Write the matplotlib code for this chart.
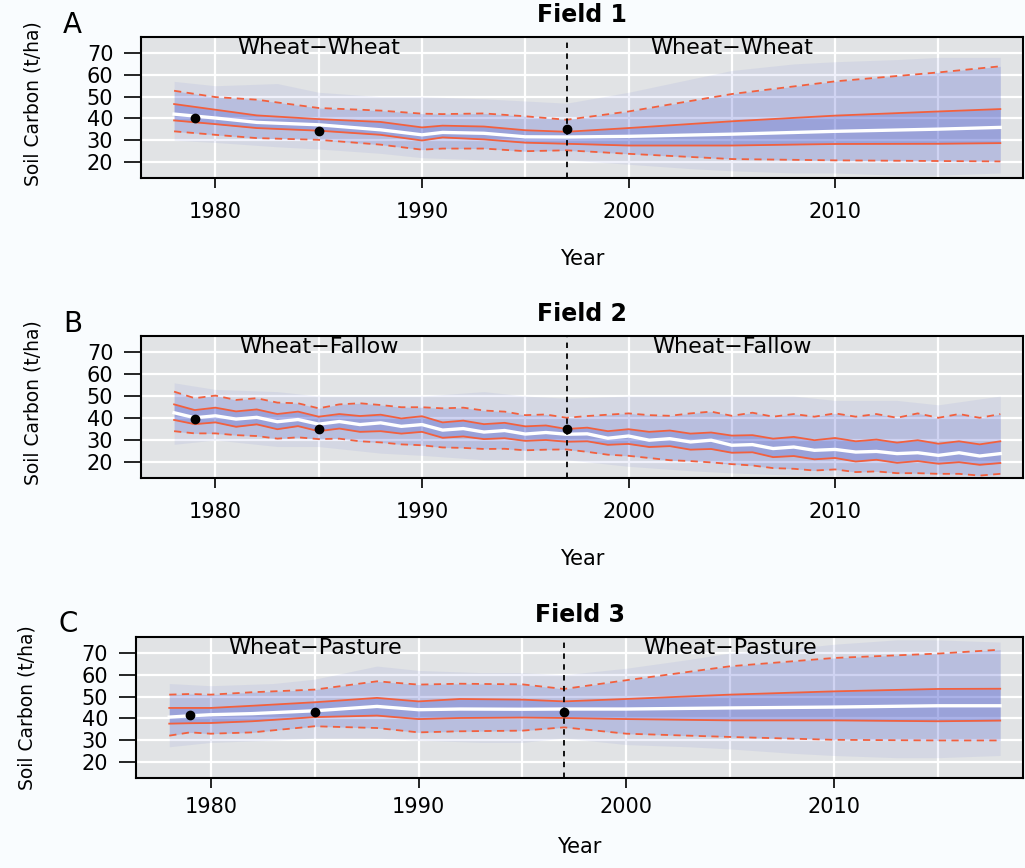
import matplotlib
matplotlib.use('Agg')
import matplotlib.pyplot as plt

plt.rcParams['font.family'] = ['DejaVu Sans']

# observed soil carbon (black dots)
obs_years = [1979, 1985, 1997]
obs_A = [40.3, 34.4, 35.0]
obs_B = [39.5, 34.9, 34.9]
obs_C = [41.4, 42.8, 42.8]

titles = ['Field 1', 'Field 2', 'Field 3']
letters = ['A', 'B', 'C']
rotations = ['Wheat\u2212Wheat', 'Wheat\u2212Fallow', 'Wheat\u2212Pasture']

# Field 1 quantiles
years_A = [1978, 1980, 1982, 1985, 1988, 1990, 1991, 1993, 1995, 1997, 2000, 2005, 2010, 2015, 2018]
a_hi95 = [52.7, 49.8, 48.6, 44.8, 43.6, 42.2, 42.0, 42.3, 41.0, 39.4, 43.2, 51.2, 57.0, 61.1, 63.9]
a_hi50 = [46.6, 44.0, 41.4, 39.7, 38.4, 35.9, 36.7, 36.3, 34.6, 33.9, 35.6, 38.7, 41.3, 43.2, 44.3]
a_med = [42.0, 40.2, 38.2, 37.1, 34.8, 32.5, 33.6, 33.2, 31.6, 31.5, 31.8, 32.8, 34.1, 35.1, 35.9]
a_lo50 = [39.1, 37.4, 35.6, 34.4, 32.5, 29.9, 31.3, 30.4, 28.9, 28.4, 27.6, 27.6, 28.3, 28.4, 28.7]
a_lo95 = [34.1, 32.5, 31.0, 30.2, 28.0, 25.7, 26.2, 26.2, 25.0, 25.4, 23.8, 21.4, 20.8, 20.5, 20.3]

env_years = [1978, 1980, 1983, 1985, 1988, 1990, 1993, 1995, 1997, 2000, 2003, 2005, 2008, 2010, 2013, 2015, 2018]
a_env_hi = [57, 55, 56, 52, 50, 50, 49, 48, 47, 52, 58, 62, 65, 66, 67, 68, 68]
a_env_lo = [30, 29, 27, 26, 24, 22, 21, 21, 21, 19, 17, 16, 15, 15, 14, 14, 15]

# Field 2 quantiles, yearly (wheat-fallow zigzag)
years_B = list(range(1978, 2019))
b_hi95 = [52.0, 49.0, 50.2, 48.2, 49.0, 47.0, 46.7, 44.4, 46.2, 46.7, 45.9, 44.9, 44.9,
          44.4, 44.7, 43.4, 42.9, 41.3, 41.6, 40.1, 40.9, 41.5, 42.1, 41.3, 41.0, 42.1, 42.9,
          41.0, 42.4, 40.6, 41.8, 40.6, 42.1, 40.6, 41.8, 40.1, 42.1, 40.1, 41.8, 40.1, 41.8]
b_hi50 = [46.2, 43.6, 44.7, 43.0, 43.9, 41.8, 42.9, 40.6, 41.8, 40.9, 41.5, 39.8, 40.8,
          38.0, 38.8, 37.2, 37.8, 36.2, 36.6, 35.0, 35.6, 34.0, 34.9, 33.7, 34.3, 32.9, 33.4,
          32.0, 32.2, 30.6, 31.4, 29.9, 30.9, 29.4, 30.2, 28.8, 29.9, 28.3, 29.4, 28.0, 29.4]
b_med = [42.4, 40.1, 41.0, 39.5, 40.3, 38.3, 39.3, 37.2, 38.4, 37.0, 37.8, 36.2, 37.0,
         34.5, 35.2, 33.6, 34.3, 32.7, 33.4, 32.6, 32.8, 30.8, 31.8, 29.9, 30.6, 29.1, 29.9,
         27.6, 27.9, 26.1, 26.8, 25.3, 25.7, 24.5, 24.8, 23.8, 24.2, 23.0, 24.2, 22.7, 23.8]
b_lo50 = [39.1, 37.2, 38.0, 36.0, 37.1, 34.9, 36.3, 34.0, 35.2, 33.7, 34.0, 32.9, 33.7,
          31.0, 31.6, 30.4, 30.8, 29.6, 30.0, 29.2, 29.4, 27.8, 28.2, 26.8, 27.2, 25.6, 25.9,
          24.2, 24.4, 22.2, 22.7, 21.2, 21.8, 20.2, 21.0, 19.6, 20.4, 19.2, 19.9, 18.7, 19.5]
b_lo95 = [34.0, 33.0, 33.0, 32.2, 31.8, 30.6, 31.2, 30.4, 30.6, 29.4, 28.9, 28.0, 27.6,
          26.6, 26.4, 25.9, 26.0, 25.3, 25.6, 25.7, 24.6, 23.3, 22.8, 21.8, 20.8, 20.4, 19.8,
          19.0, 18.4, 17.2, 16.9, 16.1, 16.6, 15.4, 15.7, 14.9, 14.9, 14.6, 14.6, 13.8, 14.6]
b_env_hi = [56, 53, 52, 50, 50, 50, 52, 50, 49, 50, 50, 50, 50, 48, 48, 46, 50]
b_env_lo = [28, 30, 27, 27, 24, 23, 21, 21, 21, 18, 16, 15, 14, 14, 13, 13, 13]

# Field 3 quantiles
years_C = [1978, 1979, 1980, 1982, 1985, 1988, 1990, 1992, 1995, 1997, 2000, 2005, 2010, 2015, 2018]
c_hi95 = [50.9, 51.2, 50.9, 52.0, 53.2, 57.0, 55.5, 55.9, 55.6, 53.5, 57.5, 63.9, 67.7, 69.7, 71.5]
c_hi50 = [44.8, 44.8, 44.8, 45.8, 47.4, 49.4, 47.8, 48.9, 48.6, 47.8, 48.9, 50.9, 52.4, 53.5, 53.6]
c_med = [40.6, 41.2, 41.7, 42.2, 43.5, 45.5, 44.0, 44.3, 44.2, 44.3, 44.3, 44.8, 45.2, 45.8, 45.8]
c_lo50 = [37.6, 37.8, 37.9, 38.7, 40.6, 41.3, 39.7, 40.2, 40.4, 40.2, 39.7, 39.1, 39.1, 38.7, 39.0]
c_lo95 = [32.1, 33.6, 33.0, 33.6, 36.4, 35.6, 33.6, 34.1, 34.4, 35.9, 33.0, 31.5, 30.2, 29.9, 29.9]
c_env_hi = [56, 55, 56, 58, 64, 62, 61, 61, 60, 63, 67, 70, 72, 74, 76, 76, 75]
c_env_lo = [27, 29, 30, 31, 31, 30, 29, 29, 31, 28, 27, 26, 24, 23, 22, 22, 23]

FIG_BG = '#f9fcfe'
PANEL_BG = '#e1e3e5'
BLUE = '#4455cc'
RED = '#f2603e'


def draw_panel(ax, years, lo95, lo50, med, hi50, hi95, e_years, e_lo, e_hi, obs, title, label,
               xpad=10, xlabelpad=20, ylab_y=0.53):
    ax.set_facecolor(PANEL_BG)
    ax.set_xlim(1976.4, 2019.1)
    ax.set_ylim(12.7, 77.3)

    # white grid, every 5 years and every 10 t/ha
    for yr in range(1980, 2016, 5):
        ax.axvline(yr, color='white', lw=1.6, zorder=0.5)
    for v in range(20, 71, 10):
        ax.axhline(v, color='white', lw=1.6, zorder=0.5)

    # blue cloud of simulated runs
    ax.fill_between(e_years, e_lo, e_hi, color=BLUE, alpha=0.08, lw=0, zorder=1)
    ax.fill_between(years, lo95, hi95, color=BLUE, alpha=0.19, lw=0, zorder=1.1)
    ax.fill_between(years, lo50, hi50, color=BLUE, alpha=0.26, lw=0, zorder=1.2)

    # quantile lines
    ax.plot(years, hi95, color=RED, lw=1.3, ls=(0, (4, 3)), zorder=2)
    ax.plot(years, lo95, color=RED, lw=1.3, ls=(0, (4, 3)), zorder=2)
    ax.plot(years, hi50, color=RED, lw=1.3, zorder=2)
    ax.plot(years, lo50, color=RED, lw=1.3, zorder=2)
    ax.plot(years, med, color='white', lw=2.4, zorder=3)

    ax.axvline(1997, color='black', lw=1.3, ls=(0, (3, 3)), zorder=4)
    ax.plot(obs_years, obs, 'o', color='black', ms=6, zorder=5)

    ax.text(1985, 72.3, label, ha='center', va='center', fontsize=16, zorder=6)
    ax.text(2005, 72.3, label, ha='center', va='center', fontsize=16, zorder=6)

    ax.set_xticks([1980, 1990, 2000, 2010])
    ax.set_yticks(range(20, 71, 10))
    ax.tick_params(axis='x', direction='out', length=7, width=1.2, pad=xpad, labelsize=15)
    ax.tick_params(axis='y', direction='out', length=12, width=1.2, pad=8, labelsize=15)
    for sp in ax.spines.values():
        sp.set_linewidth(1.5)
        sp.set_color('black')

    ax.set_title(title, fontsize=17, fontweight='bold', pad=11)
    ax.set_xlabel('Year', fontsize=15, labelpad=xlabelpad)
    ax.set_ylabel('Soil Carbon (t/ha)', fontsize=13.5)
    ax.yaxis.set_label_coords(-0.112, ylab_y)


def main():
    fig = plt.figure(figsize=(10.25, 8.68), dpi=100)
    fig.patch.set_facecolor(FIG_BG)

    ax_a = fig.add_axes([0.1376, 0.7949, 0.8605, 0.1624])
    ax_b = fig.add_axes([0.1376, 0.4493, 0.8605, 0.1636])
    ax_c = fig.add_axes([0.1327, 0.1037, 0.8654, 0.1624])

    draw_panel(ax_a, years_A, a_lo95, a_lo50, a_med, a_hi50, a_hi95,
               env_years, a_env_lo, a_env_hi, obs_A, titles[0], rotations[0])
    draw_panel(ax_b, years_B, b_lo95, b_lo50, b_med, b_hi50, b_hi95,
               env_years, b_env_lo, b_env_hi, obs_B, titles[1], rotations[1])
    draw_panel(ax_c, years_C, c_lo95, c_lo50, c_med, c_hi50, c_hi95,
               env_years, c_env_lo, c_env_hi, obs_C, titles[2], rotations[2],
               xpad=7, xlabelpad=14, ylab_y=0.5)

    # panel letters
    fig.text(0.061, 0.962, letters[0], fontsize=20)
    fig.text(0.062, 0.6175, letters[1], fontsize=20)
    fig.text(0.057, 0.272, letters[2], fontsize=20)

    fig.savefig('out.png', dpi=100, facecolor=FIG_BG)


if __name__ == '__main__':
    main()
